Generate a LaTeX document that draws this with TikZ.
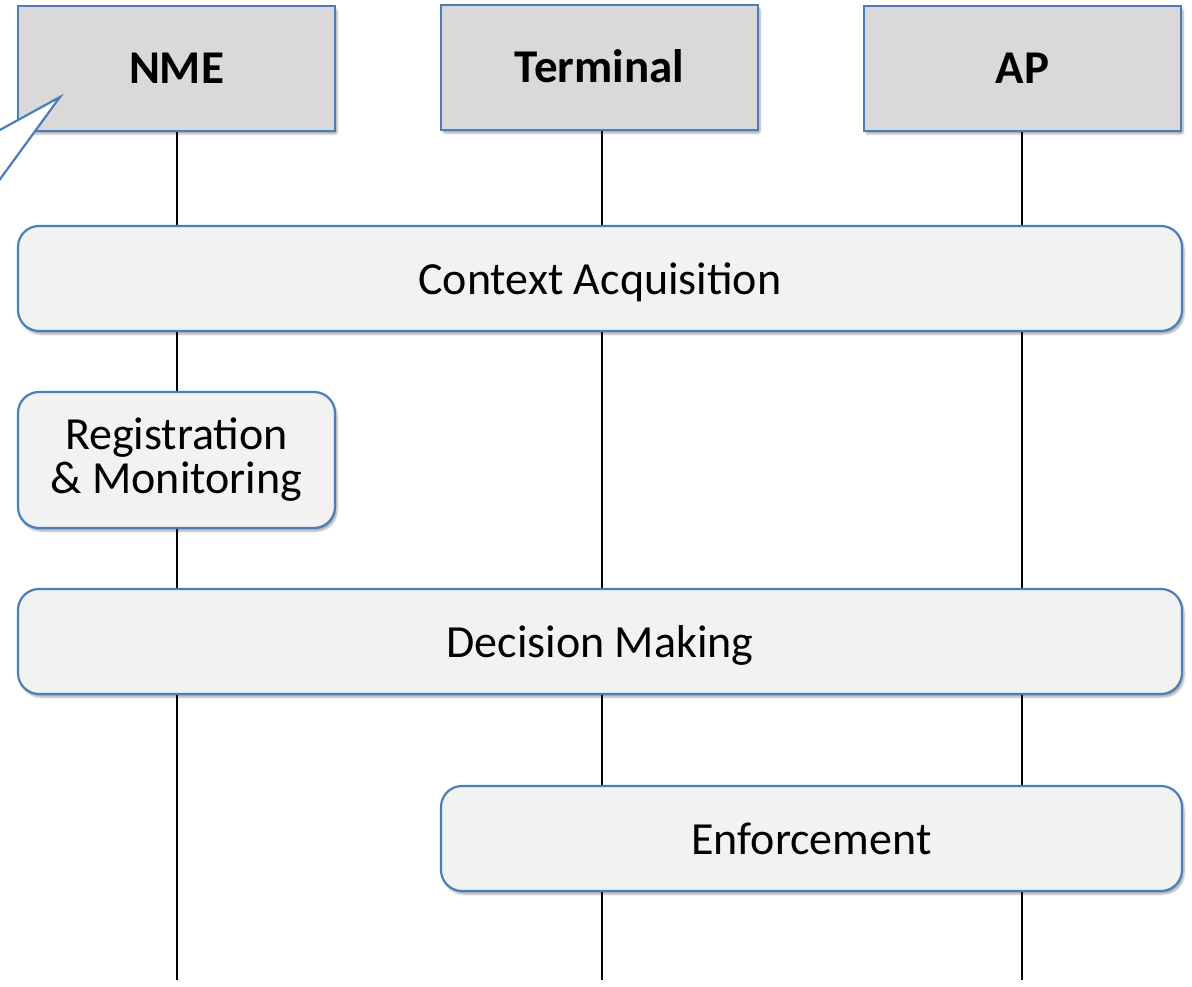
\documentclass[tikz,border=0pt]{standalone}
\usepackage{fontspec}
\setmainfont{Carlito}
\usetikzlibrary{shadows.blur}
\definecolor{edgeblue}{HTML}{4A7EBB}
\definecolor{headfill}{HTML}{D9D9D9}
\definecolor{phasefill}{HTML}{F2F2F2}
\tikzset{
  shade/.style={blur shadow={shadow xshift=2pt, shadow yshift=-3pt, shadow blur steps=6, shadow blur extra rounding=2pt, shadow opacity=35}},
  entity/.style={draw=edgeblue, line width=2.2pt, fill=headfill, shade, inner sep=0pt,
    text height=42pt, text depth=11pt, font=\bfseries\fontsize{47}{50}\selectfont},
  phase/.style={draw=edgeblue, line width=2.2pt, fill=phasefill, rounded corners=21pt, shade, inner sep=0pt, align=center, font=\fontsize{46}{44}\selectfont},
  oneline/.style={text height=42pt, text depth=10pt},
  lifeline/.style={line width=2.4pt, black},
  callout/.style={draw=edgeblue, line width=2.2pt, line join=miter}
}
\begin{document}
\begin{tikzpicture}[x=1pt, y=-1pt]
\useasboundingbox (0,0) rectangle (1192,987);

% lifeline ends
\coordinate (nmeEnd) at (177,980);
\coordinate (termEnd) at (602,980);
\coordinate (apEnd) at (1022,980);

% participant headers
\node[entity, minimum width=317pt, minimum height=125pt] (nme) at (176.5,68.5) {NME};
\node[entity, minimum width=317pt, minimum height=125pt] (term) at (599.5,67.5) {Terminal};
\node[entity, minimum width=317pt, minimum height=125pt] (ap) at (1022.5,68.5) {AP};

% lifelines, drawn behind the phase boxes
\draw[lifeline] (nme.south -| nmeEnd) -- (nmeEnd);
\draw[lifeline] (term.south -| termEnd) -- (termEnd);
\draw[lifeline] (ap.south -| apEnd) -- (apEnd);

% pointer of a callout whose body lies off to the left
\coordinate (tip) at (60,97);
\coordinate (c1) at (-2,131);
\coordinate (c2) at (-2,182);
\fill[white] (-5,125) -- (c1) -- (tip) -- (c2) -- (-5,190) -- cycle;
\draw[callout] (c1) -- (tip) -- (c2);

% phases
\node[phase, oneline, minimum width=1164pt, minimum height=105pt] (ctx) at (600,278.5) {Context Acquisition};
\node[phase, minimum width=317pt, minimum height=136pt] (reg) at (176.5,460) {Registration\\\& Monitoring};
\node[phase, oneline, minimum width=1164pt, minimum height=105pt] (dec) at (600,641.5) {Decision Making};
\node[phase, oneline, minimum width=741pt, minimum height=105pt] (enf) at (811.5,838.5) {Enforcement};
\end{tikzpicture}
\end{document}
